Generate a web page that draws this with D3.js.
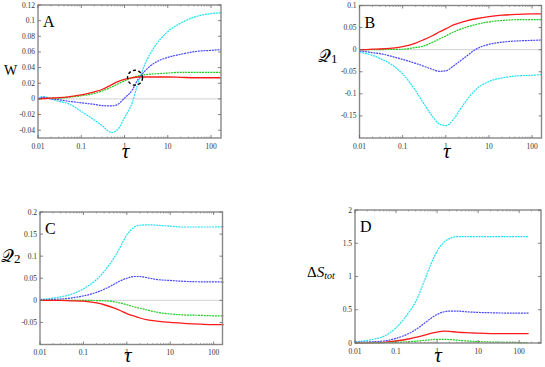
<!DOCTYPE html>
<html>
<head>
<meta charset="utf-8">
<script src="https://cdn.jsdelivr.net/npm/d3@7"></script>
<style>
  body { margin: 0; background: #fff; }
  svg { display: block; }
  .tick-label { font-family: "Liberation Serif", "DejaVu Serif", serif; font-size: 7.5px; fill: #333; }
</style>
</head>
<body>
<svg width="545" height="367"></svg>
<script>
// shared tau grid
var tau = [0.01, 0.013, 0.02, 0.03, 0.05, 0.1, 0.2, 0.3, 0.5, 0.7, 1, 1.5, 2, 3, 5, 10, 20, 50, 100, 170];

// panel A: W
var wRed   = [0, 0.0005, 0.001, 0.0015, 0.0025, 0.005, 0.009, 0.012, 0.018, 0.022, 0.025, 0.027, 0.028, 0.028, 0.028, 0.028, 0.0275, 0.027, 0.027, 0.027];
var wGreen = [0, 0.0005, 0.001, 0.001, 0.002, 0.004, 0.007, 0.010, 0.015, 0.019, 0.023, 0.027, 0.029, 0.031, 0.032, 0.033, 0.034, 0.034, 0.034, 0.034];
var wBlue  = [0, 0.002, 0, -0.001, -0.003, -0.005, -0.007, -0.0085, -0.009, -0.007, 0.001, 0.011, 0.024, 0.036, 0.046, 0.053, 0.057, 0.061, 0.062, 0.063];
var wCyan  = [0, 0.003, 0, -0.003, -0.006, -0.016, -0.027, -0.034, -0.043, -0.039, -0.024, -0.005, 0.018, 0.045, 0.067, 0.086, 0.097, 0.106, 0.109, 0.110];

// panel B: Q1
var q1Red   = [0, 0, 0.001, 0.0015, 0.003, 0.007, 0.015, 0.022, 0.032, 0.040, 0.047, 0.056, 0.060, 0.065, 0.070, 0.075, 0.078, 0.080, 0.081, 0.081];
var q1Green = [0, 0, 0, 0, 0.0005, 0.001, 0.005, 0.008, 0.017, 0.024, 0.031, 0.040, 0.045, 0.051, 0.057, 0.063, 0.066, 0.068, 0.068, 0.068];
var q1Blue  = [-0.003, -0.004, -0.007, -0.009, -0.014, -0.022, -0.031, -0.037, -0.045, -0.049, -0.048, -0.037, -0.028, -0.015, 0.001, 0.012, 0.017, 0.020, 0.021, 0.022];
var q1Cyan  = [-0.005, -0.008, -0.013, -0.020, -0.031, -0.055, -0.093, -0.120, -0.152, -0.168, -0.172, -0.158, -0.140, -0.115, -0.090, -0.072, -0.064, -0.059, -0.058, -0.056];

// panel C: Q2
var q2Red   = [0, 0, 0, 0, -0.001, -0.002, -0.006, -0.010, -0.017, -0.023, -0.030, -0.036, -0.040, -0.044, -0.047, -0.050, -0.052, -0.054, -0.055, -0.055];
var q2Green = [0, 0, 0, 0, 0, 0, -0.0005, -0.001, -0.003, -0.006, -0.010, -0.015, -0.018, -0.022, -0.027, -0.031, -0.033, -0.034, -0.035, -0.035];
var q2Blue  = [0.001, 0.001, 0.002, 0.003, 0.005, 0.010, 0.018, 0.025, 0.036, 0.044, 0.050, 0.054, 0.054, 0.051, 0.047, 0.045, 0.043, 0.042, 0.042, 0.041];
var q2Cyan  = [0.002, 0.003, 0.005, 0.008, 0.013, 0.026, 0.047, 0.065, 0.095, 0.120, 0.148, 0.166, 0.170, 0.171, 0.170, 0.168, 0.166, 0.166, 0.166, 0.167];

// panel D: total entropy production
var sRed   = [0, 0, 0.002, 0.005, 0.010, 0.030, 0.060, 0.085, 0.120, 0.145, 0.165, 0.178, 0.175, 0.165, 0.155, 0.147, 0.142, 0.140, 0.140, 0.140];
var sGreen = [0, 0, 0, 0.001, 0.003, 0.010, 0.020, 0.028, 0.040, 0.048, 0.055, 0.056, 0.052, 0.043, 0.032, 0.022, 0.015, 0.010, 0.007, 0.005];
var sBlue  = [0.010, 0.012, 0.015, 0.020, 0.030, 0.070, 0.140, 0.200, 0.300, 0.370, 0.430, 0.470, 0.480, 0.480, 0.470, 0.460, 0.455, 0.450, 0.450, 0.450];
var sCyan  = [0.020, 0.025, 0.040, 0.060, 0.100, 0.230, 0.450, 0.620, 0.950, 1.180, 1.380, 1.520, 1.570, 1.600, 1.600, 1.600, 1.600, 1.600, 1.600, 1.600];

// tick values
var xTicks = [0.01, 0.1, 1, 10, 100];
var xTickLabels = ["0.01", "0.1", "1", "10", "100"];
var wTicks = [-0.04, -0.02, 0, 0.02, 0.04, 0.06, 0.08, 0.1, 0.12];
var q1Ticks = [-0.15, -0.1, -0.05, 0, 0.05, 0.1];
var q2Ticks = [-0.05, 0, 0.05, 0.1, 0.15, 0.2];
var sTicks = [0, 0.5, 1, 1.5, 2];

var svg = d3.select("svg");
var serif = "'Liberation Serif', 'DejaVu Serif', serif";

var styles = {
  red:   { color: "#ff1a1a", dash: null, width: 1.3 },
  green: { color: "#22cc22", dash: "2,0.8", width: 1.2 },
  blue:  { color: "#4848ff", dash: "2,0.8", width: 1.2 },
  cyan:  { color: "#22e0f0", dash: "2,0.8", width: 1.2 }
};

function drawPanel(p) {
  var x = d3.scaleLog().domain(p.xDomain).range([p.left, p.right]);
  var y = d3.scaleLinear().domain(p.yDomain).range([p.bottom, p.top]);
  var g = svg.append("g");

  // zero reference line
  if (p.zero) {
    g.append("line")
      .attr("x1", p.left).attr("x2", p.right)
      .attr("y1", y(0)).attr("y2", y(0))
      .attr("stroke", "#d0d0d0").attr("stroke-width", 1);
  }

  // curves
  var line = d3.line()
    .x(function(d) { return x(d[0]); })
    .y(function(d) { return y(d[1]); })
    .curve(d3.curveMonotoneX);
  p.series.forEach(function(s) {
    var st = styles[s.name];
    g.append("path")
      .datum(tau.map(function(t, i) { return [t, s.values[i]]; }))
      .attr("d", line)
      .attr("fill", "none")
      .attr("stroke", st.color)
      .attr("stroke-width", st.width)
      .attr("stroke-dasharray", st.dash);
  });

  // frame
  g.append("rect")
    .attr("x", p.left).attr("y", p.top)
    .attr("width", p.right - p.left).attr("height", p.bottom - p.top)
    .attr("fill", "none").attr("stroke", "#888").attr("stroke-width", 1.4);

  // y ticks, inward on both sides
  p.yTicks.forEach(function(v) {
    var yy = y(v);
    g.append("line").attr("x1", p.left).attr("x2", p.left + 3).attr("y1", yy).attr("y2", yy)
      .attr("stroke", "#666").attr("stroke-width", 0.8);
    g.append("line").attr("x1", p.right).attr("x2", p.right - 3).attr("y1", yy).attr("y2", yy)
      .attr("stroke", "#666").attr("stroke-width", 0.8);
    g.append("text").attr("class", "tick-label")
      .attr("x", p.left - 3).attr("y", yy + 2.5)
      .attr("text-anchor", "end")
      .text(String(v));
  });

  // x ticks: majors labelled, minors small
  var minors = [];
  for (var e = -2; e <= 2; e++) {
    for (var m = 2; m <= 9; m++) {
      var v = m * Math.pow(10, e);
      if (v < p.xDomain[1]) minors.push(v);
    }
  }
  minors.forEach(function(v) {
    var xx = x(v);
    g.append("line").attr("x1", xx).attr("x2", xx).attr("y1", p.bottom).attr("y2", p.bottom - 1.5)
      .attr("stroke", "#777").attr("stroke-width", 0.6);
    g.append("line").attr("x1", xx).attr("x2", xx).attr("y1", p.top).attr("y2", p.top + 1.5)
      .attr("stroke", "#777").attr("stroke-width", 0.6);
  });
  xTicks.forEach(function(v, i) {
    var xx = x(v);
    g.append("line").attr("x1", xx).attr("x2", xx).attr("y1", p.bottom).attr("y2", p.bottom - 3)
      .attr("stroke", "#666").attr("stroke-width", 0.8);
    g.append("line").attr("x1", xx).attr("x2", xx).attr("y1", p.top).attr("y2", p.top + 3)
      .attr("stroke", "#666").attr("stroke-width", 0.8);
    g.append("text").attr("class", "tick-label")
      .attr("x", xx).attr("y", p.bottom + 10.5)
      .attr("text-anchor", "middle")
      .text(xTickLabels[i]);
  });

  // tau label
  g.append("text")
    .attr("x", x(1) + 1).attr("y", p.bottom + p.tauDy)
    .attr("text-anchor", "middle")
    .style("font-family", serif).style("font-style", "italic").style("font-size", "21px")
    .text("τ");

  // panel letter
  g.append("text")
    .attr("x", p.left + 5).attr("y", p.top + 22)
    .style("font-family", serif).style("font-size", "16px")
    .text(p.letter);

  p.yLabel(g);
  return { x: x, y: y, g: g };
}

var A = drawPanel({
  letter: "A", left: 38, right: 221, top: 5, bottom: 138, tauDy: 20,
  xDomain: [0.01, 170], yDomain: [-0.05, 0.12], yTicks: wTicks, zero: true,
  series: [{ name: "cyan", values: wCyan }, { name: "blue", values: wBlue },
           { name: "green", values: wGreen }, { name: "red", values: wRed }],
  yLabel: function(g) {
    g.append("text").attr("x", 4).attr("y", 75)
      .style("font-family", serif).style("font-size", "14px").text("W");
  }
});

// dashed circle where curves cross
A.g.append("circle")
  .attr("cx", A.x(1.75)).attr("cy", A.y(0.027)).attr("r", 7.5)
  .attr("fill", "none").attr("stroke", "#000").attr("stroke-width", 1.4)
  .attr("stroke-dasharray", "3,2.5");

drawPanel({
  letter: "B", left: 359.5, right: 541.5, top: 5.5, bottom: 138, tauDy: 20,
  xDomain: [0.01, 165], yDomain: [-0.2, 0.1], yTicks: q1Ticks, zero: true,
  series: [{ name: "cyan", values: q1Cyan }, { name: "blue", values: q1Blue },
           { name: "green", values: q1Green }, { name: "red", values: q1Red }],
  yLabel: function(g) {
    var t = g.append("text").attr("x", 318).attr("y", 62)
      .style("font-family", serif).style("font-size", "18px");
    t.append("tspan").text("𝒬");
    t.append("tspan").attr("dy", 1).style("font-size", "13px").text("1");
  }
});

drawPanel({
  letter: "C", left: 40, right: 222.5, top: 212, bottom: 344.5, tauDy: 17.5,
  xDomain: [0.01, 160], yDomain: [-0.1, 0.2], yTicks: q2Ticks, zero: true,
  series: [{ name: "cyan", values: q2Cyan }, { name: "blue", values: q2Blue },
           { name: "green", values: q2Green }, { name: "red", values: q2Red }],
  yLabel: function(g) {
    var t = g.append("text").attr("x", 1).attr("y", 262)
      .style("font-family", serif).style("font-size", "18px");
    t.append("tspan").text("𝒬");
    t.append("tspan").attr("dy", 1).style("font-size", "13px").text("2");
  }
});

drawPanel({
  letter: "D", left: 355, right: 541, top: 210, bottom: 343, tauDy: 19,
  xDomain: [0.01, 340], yDomain: [0, 2], yTicks: sTicks, zero: false,
  series: [{ name: "cyan", values: sCyan }, { name: "blue", values: sBlue },
           { name: "red", values: sRed }, { name: "green", values: sGreen }],
  yLabel: function(g) {
    var t = g.append("text").attr("x", 307).attr("y", 277)
      .style("font-family", serif).style("font-size", "15px");
    t.append("tspan").text("Δ");
    t.append("tspan").style("font-style", "italic").text("S");
    t.append("tspan").attr("dy", 2).style("font-size", "10px").style("font-style", "italic").text("tot");
  }
});
</script>
</body>
</html>
